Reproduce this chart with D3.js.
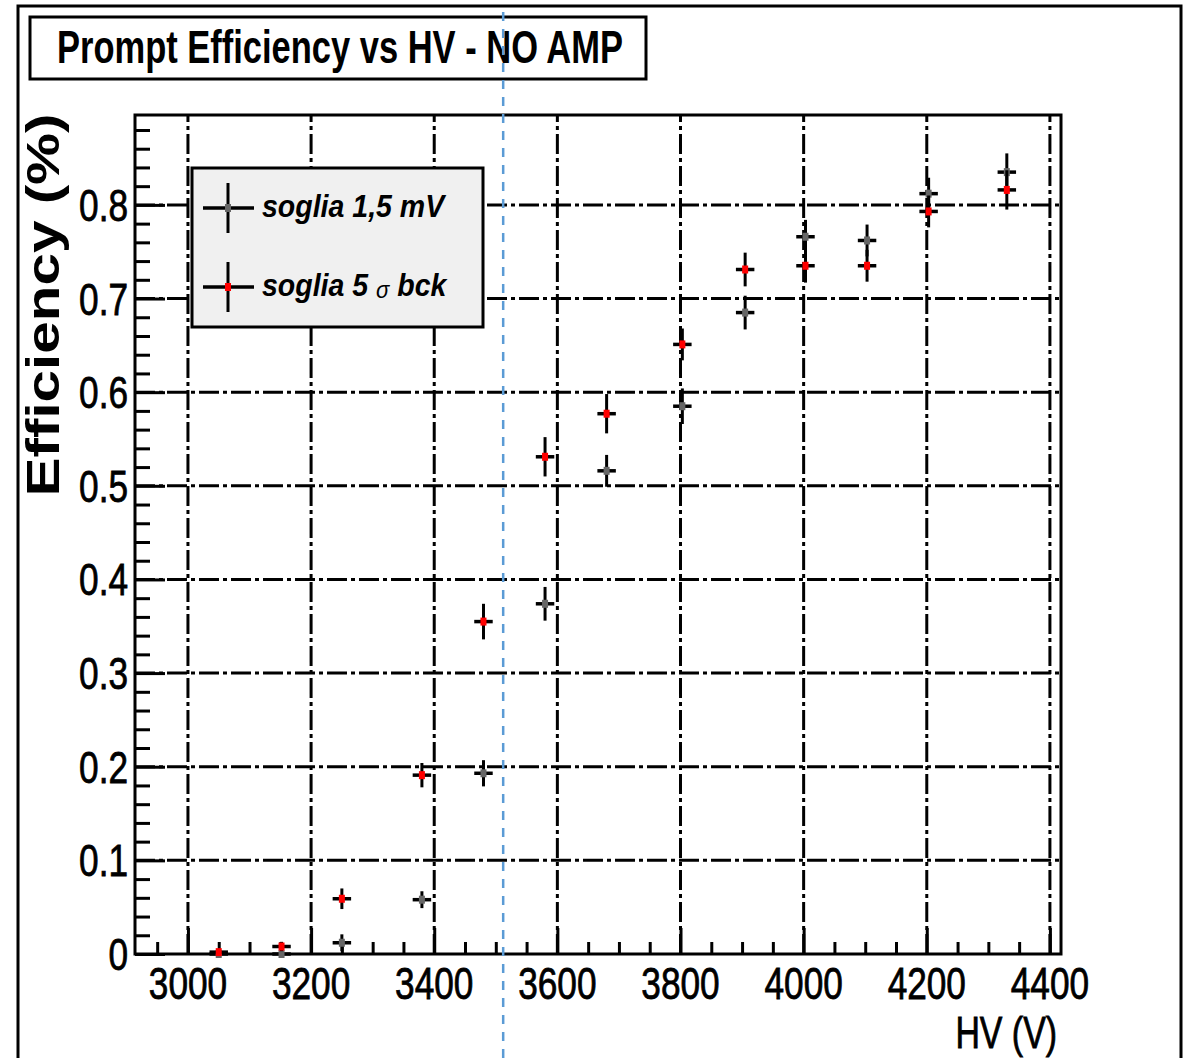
<!DOCTYPE html>
<html>
<head>
<meta charset="utf-8">
<script src="https://cdn.jsdelivr.net/npm/d3@7"></script>
<style>
  html, body { margin: 0; padding: 0; background: #fff; }
  svg { display: block; }
  text { white-space: pre; }
</style>
</head>
<body>
<div id="chart"></div>
<script>
// HV set points (V) and horizontal half-width of the error bars
const hv    = [3050, 3152, 3250, 3380, 3480, 3580, 3680, 3803, 3905, 4003, 4103, 4203, 4330];
const hvErr = [15, 15, 15, 15, 15, 15, 15, 15, 15, 15, 15, 15, 15];

// soglia 1,5 mV (black)
const effMv    = [0.000, 0.000, 0.012, 0.058, 0.193, 0.374, 0.516, 0.585, 0.685, 0.766, 0.762, 0.812, 0.835];
const effMvErr = [0.002, 0.004, 0.009, 0.009, 0.014, 0.018, 0.017, 0.019, 0.018, 0.018, 0.017, 0.017, 0.020];

// soglia 5 sigma bck (red)
const effSigma    = [0.002, 0.008, 0.059, 0.191, 0.355, 0.531, 0.577, 0.651, 0.731, 0.735, 0.735, 0.793, 0.816];
const effSigmaErr = [0.003, 0.005, 0.011, 0.013, 0.019, 0.021, 0.021, 0.017, 0.018, 0.018, 0.017, 0.017, 0.021];

const seriesNames = ["soglia 1,5 mV", "soglia 5 σ bck"];
const seriesColors = ["#666666", "#ff0000"];

const xTicks = [3000, 3200, 3400, 3600, 3800, 4000, 4200, 4400];
const xTickLabels = ["3000", "3200", "3400", "3600", "3800", "4000", "4200", "4400"];
const yTicks = [0, 0.1, 0.2, 0.3, 0.4, 0.5, 0.6, 0.7, 0.8];
const yTickLabels = ["0", "0.1", "0.2", "0.3", "0.4", "0.5", "0.6", "0.7", "0.8"];

const cutHV = [3512];

const titleText = "Prompt Efficiency vs HV - NO AMP";
const xTitle = "HV (V)";
const yTitle = "Efficiency (%)";

const FONT = "'Liberation Sans', Arial, Helvetica, sans-serif";
const width = 1196, height = 1058;
const frame = {left: 135, top: 115, right: 1061, bottom: 954};

const svg = d3.select("#chart").append("svg")
  .attr("width", width)
  .attr("height", height)
  .attr("viewBox", `0 0 ${width} ${height}`);

svg.append("rect").attr("width", width).attr("height", height).attr("fill", "#fff");

const x = d3.scaleLinear().domain([2914, 4418]).range([frame.left, frame.right]);
const y = d3.scaleLinear().domain([0, 0.896]).range([frame.bottom, frame.top]);

function addText(parent, px, py, str, opts) {
  let tr = `translate(${px},${py})`;
  if (opts.rotate) tr += ` rotate(${opts.rotate})`;
  tr += ` scale(${opts.sx || 1},1)`;
  const t = parent.append("text")
    .attr("transform", tr)
    .attr("text-anchor", opts.anchor || "start")
    .style("font-family", FONT)
    .style("font-size", opts.size + "px")
    .style("font-weight", opts.weight || "normal")
    .style("font-style", opts.style || "normal")
    .attr("fill", "#000")
    .text(str);
  if (opts.heavy) t.attr("stroke", "#000").attr("stroke-width", opts.heavy);
  return t;
}

// outer canvas border
svg.append("rect")
  .attr("x", 18).attr("y", 6)
  .attr("width", 1163).attr("height", 1070)
  .attr("fill", "none").attr("stroke", "#000").attr("stroke-width", 3);

// grid
const grid = svg.append("g").attr("stroke", "#000").attr("stroke-width", 3).attr("stroke-dasharray", "20,4,4,4");
grid.selectAll(".vgrid").data(xTicks).enter().append("line")
  .attr("x1", d => x(d)).attr("x2", d => x(d))
  .attr("y1", frame.bottom).attr("y2", frame.top);
grid.selectAll(".hgrid").data(yTicks.filter(d => d > 0)).enter().append("line")
  .attr("x1", frame.left).attr("x2", frame.right)
  .attr("y1", d => y(d)).attr("y2", d => y(d));

// ticks
const xMinor = d3.range(2950, 4418, 50).filter(v => v % 200 !== 0);
const yMinor = d3.range(1, 45).map(i => i * 0.02).filter(v => v < 0.896 && Math.round(v * 100) % 10 !== 0);

function styleAxis(g) {
  g.select(".domain").remove();
  g.selectAll(".tick line").attr("stroke", "#000").attr("stroke-width", 3);
  g.selectAll(".tick text").remove();
}

svg.append("g").attr("transform", `translate(0,${frame.bottom})`)
  .call(d3.axisTop(x).tickValues(xTicks).tickSize(26).tickFormat(""))
  .call(styleAxis);
svg.append("g").attr("transform", `translate(0,${frame.bottom})`)
  .call(d3.axisTop(x).tickValues(xMinor).tickSize(12).tickFormat(""))
  .call(styleAxis);
svg.append("g").attr("transform", `translate(${frame.left},0)`)
  .call(d3.axisRight(y).tickValues(yTicks).tickSize(30).tickFormat(""))
  .call(styleAxis);
svg.append("g").attr("transform", `translate(${frame.left},0)`)
  .call(d3.axisRight(y).tickValues(yMinor).tickSize(15).tickFormat(""))
  .call(styleAxis);

// frame
svg.append("rect")
  .attr("x", frame.left).attr("y", frame.top)
  .attr("width", frame.right - frame.left).attr("height", frame.bottom - frame.top)
  .attr("fill", "none").attr("stroke", "#000").attr("stroke-width", 3);

// tick labels
xTicks.forEach((t, i) => addText(svg, x(t), 999, xTickLabels[i], {size: 44, sx: 0.8, anchor: "middle", heavy: 0.8}));
yTicks.forEach((t, i) => addText(svg, 128, y(t) + 16, yTickLabels[i], {size: 44, sx: 0.8, anchor: "end", heavy: 0.8}));

// axis titles
addText(svg, 1057, 1048, xTitle, {size: 44, sx: 0.77, anchor: "end", heavy: 0.8});
addText(svg, 59, 305, yTitle, {size: 46, sx: 1.27, anchor: "middle", rotate: -90, weight: "bold"});

// data
const series = [
  {name: seriesNames[0], color: seriesColors[0], vals: effMv, errs: effMvErr},
  {name: seriesNames[1], color: seriesColors[1], vals: effSigma, errs: effSigmaErr}
];

series.forEach(s => {
  const pts = hv.map((h, i) => ({h, he: hvErr[i], v: s.vals[i], e: s.errs[i]}));
  const g = svg.append("g");
  g.selectAll(".ev").data(pts).enter().append("line")
    .attr("x1", d => x(d.h)).attr("x2", d => x(d.h))
    .attr("y1", d => y(d.v - d.e)).attr("y2", d => y(d.v + d.e))
    .attr("stroke", "#000").attr("stroke-width", 3);
  g.selectAll(".eh").data(pts).enter().append("line")
    .attr("x1", d => x(d.h - d.he)).attr("x2", d => x(d.h + d.he))
    .attr("y1", d => y(d.v)).attr("y2", d => y(d.v))
    .attr("stroke", "#000").attr("stroke-width", 3.5);
  g.selectAll(".mk").data(pts).enter().append("rect")
    .attr("x", d => x(d.h) - 3).attr("y", d => y(d.v) - 4)
    .attr("width", 6).attr("height", 8)
    .attr("fill", s.color);
});

// legend
const legend = svg.append("g");
legend.append("rect")
  .attr("x", 192).attr("y", 168).attr("width", 291).attr("height", 159)
  .attr("fill", "#f0f0f0").attr("stroke", "#000").attr("stroke-width", 3);

series.forEach((s, i) => {
  const cy = 208 + i * 79;
  legend.append("line").attr("x1", 228).attr("x2", 228).attr("y1", cy - 25).attr("y2", cy + 25)
    .attr("stroke", "#000").attr("stroke-width", 3);
  legend.append("line").attr("x1", 203).attr("x2", 254).attr("y1", cy).attr("y2", cy)
    .attr("stroke", "#000").attr("stroke-width", 3.5);
  legend.append("rect").attr("x", 225).attr("y", cy - 4).attr("width", 6).attr("height", 8)
    .attr("fill", s.color);

  const parts = s.name.split("σ");
  const t = addText(legend, 262, cy + 9, "", {size: 31, sx: 0.92, weight: "bold", style: "italic"});
  t.append("tspan").text(parts[0]);
  if (parts.length > 1) {
    t.append("tspan").attr("dy", 2).style("font-size", "24px").style("font-weight", "normal").text("σ");
    t.append("tspan").attr("dy", -2).text(parts[1]);
  }
});

// title box
svg.append("rect")
  .attr("x", 30).attr("y", 17).attr("width", 616).attr("height", 62)
  .attr("fill", "#fff").attr("stroke", "#000").attr("stroke-width", 3);
addText(svg, 57, 63, titleText, {size: 46, sx: 0.75, weight: "bold"});

// dashed marker line
svg.selectAll(".cut").data(cutHV).enter().append("line")
  .attr("x1", d => x(d)).attr("x2", d => x(d))
  .attr("y1", 12).attr("y2", height)
  .attr("stroke", "#5b9bd5").attr("stroke-width", 2.5)
  .attr("stroke-dasharray", "9,8");
</script>
</body>
</html>
